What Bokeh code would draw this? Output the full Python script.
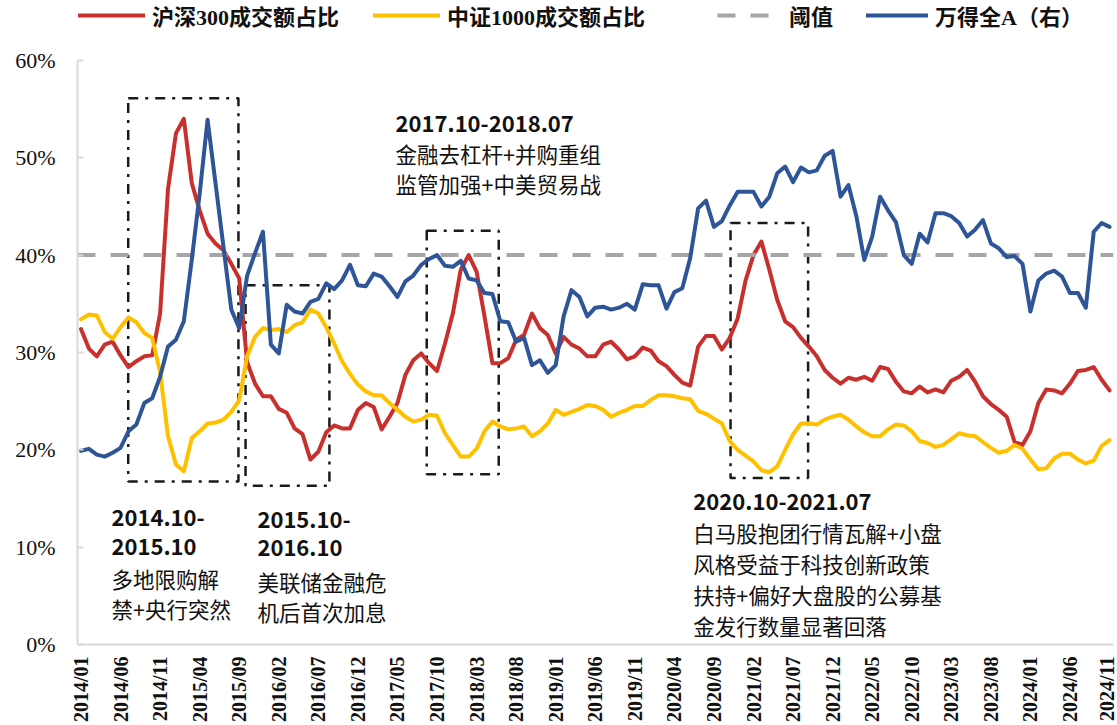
from bokeh.plotting import figure
from bokeh.models import Legend, LegendItem, Label, FixedTicker, Range1d
from bokeh.embed import file_html
from bokeh.resources import INLINE

# ---------------- data ----------------
months = [f"{2014 + k // 12}/{k % 12 + 1:02d}" for k in range(131)]   # 2014/01 .. 2024/11

hs300_share = [
    32.4, 30.4, 29.6, 30.8, 31.1, 29.7, 28.5, 29.1, 29.6, 29.7,
    34.0, 46.8, 52.5, 54.0, 47.4, 44.6, 42.2, 41.2, 40.5, 39.1,
    37.6, 29.0, 26.8, 25.5, 25.5, 24.2, 23.8, 22.2, 21.6, 19.0,
    19.8, 21.8, 22.5, 22.2, 22.2, 24.1, 24.8, 24.4, 22.1, 23.4,
    24.8, 27.7, 29.2, 29.9, 28.9, 28.1, 30.9, 34.0, 38.5, 40.0,
    38.3, 33.7, 28.9, 28.9, 29.4, 31.3, 31.8, 34.0, 32.5, 31.8,
    29.9, 31.6, 30.8, 30.4, 29.6, 29.6, 30.8, 31.1, 30.3, 29.3,
    29.6, 30.5, 30.2, 29.1, 28.6, 27.7, 26.9, 26.6, 30.6, 31.7,
    31.7, 30.3, 31.5, 33.5, 37.4, 40.0, 41.4, 38.5, 35.4, 33.2,
    32.6, 31.5, 30.6, 29.6, 28.2, 27.4, 26.8, 27.4, 27.2, 27.5,
    27.1, 28.5, 28.3, 27.0, 26.0, 25.8, 26.5, 25.9, 26.2, 25.9,
    27.1, 27.5, 28.2, 27.0, 25.5, 24.7, 24.1, 23.4, 20.8, 20.5,
    21.9, 24.8, 26.2, 26.1, 25.8, 26.8, 28.1, 28.2, 28.5, 27.2, 26.1]

csi1000_share = [
    33.4, 33.9, 33.8, 32.1, 31.4, 32.6, 33.6, 33.1, 32.0, 31.5,
    28.0, 21.4, 18.5, 17.8, 21.2, 21.9, 22.7, 22.8, 23.1, 23.9,
    25.1, 29.6, 31.6, 32.5, 32.3, 32.4, 32.1, 32.8, 33.1, 34.4,
    34.0, 32.6, 30.9, 29.1, 27.8, 26.7, 26.0, 25.6, 25.6, 24.8,
    24.1, 23.4, 22.9, 23.1, 23.6, 23.5, 21.7, 20.5, 19.3, 19.3,
    20.1, 21.9, 22.9, 22.4, 22.1, 22.2, 22.4, 21.4, 21.9, 22.7,
    24.1, 23.6, 23.9, 24.2, 24.6, 24.5, 24.1, 23.4, 23.8, 24.1,
    24.5, 24.5, 25.1, 25.6, 25.6, 25.5, 25.3, 25.2, 24.0, 23.7,
    23.2, 22.7, 20.9, 20.0, 19.4, 18.8, 17.9, 17.7, 18.3, 20.0,
    21.6, 22.7, 22.7, 22.6, 23.1, 23.4, 23.6, 23.1, 22.4, 21.8,
    21.4, 21.4, 22.1, 22.6, 22.5, 21.9, 20.9, 20.7, 20.3, 20.5,
    21.1, 21.7, 21.5, 21.4, 20.8, 20.2, 19.7, 19.9, 20.5, 20.1,
    19.0, 18.0, 18.1, 19.1, 19.6, 19.6, 19.0, 18.6, 18.9, 20.4, 21.0]

# Wind All A (right axis, which is not shown) read against the left scale
wind_all_a = [
    19.9, 20.1, 19.5, 19.3, 19.7, 20.2, 21.9, 22.6, 24.8, 25.3,
    27.5, 30.6, 31.3, 33.2, 39.5, 46.3, 53.9, 47.4, 40.9, 34.4,
    32.5, 37.9, 40.2, 42.4, 30.8, 29.9, 34.9, 34.2, 34.0, 35.2,
    35.5, 37.1, 36.5, 37.4, 39.0, 36.9, 36.8, 38.1, 37.8, 36.8,
    35.7, 37.3, 37.9, 39.0, 39.6, 40.0, 38.9, 38.8, 39.4, 37.6,
    37.4, 36.1, 36.0, 33.2, 33.1, 31.1, 31.5, 28.7, 29.2, 27.9,
    28.7, 33.7, 36.4, 35.7, 33.7, 34.6, 34.7, 34.4, 34.6, 35.0,
    34.4, 37.0, 36.9, 36.9, 34.5, 36.2, 36.6, 39.7, 44.8, 45.6,
    42.9, 43.5, 45.1, 46.5, 46.5, 46.5, 45.0, 46.0, 48.4, 49.1,
    47.5, 49.0, 48.5, 48.7, 50.2, 50.7, 46.0, 47.2, 44.0, 39.5,
    41.9, 46.0, 44.6, 43.4, 40.0, 39.1, 42.2, 41.3, 44.3, 44.3,
    44.0, 43.3, 41.9, 42.6, 43.6, 41.2, 40.7, 39.8, 39.9, 39.1,
    34.2, 37.4, 38.1, 38.4, 37.8, 36.1, 36.1, 34.6, 42.4, 43.3, 42.9]

threshold = 40.0
y_ticks = [0, 10, 20, 30, 40, 50, 60]
x_tick_step = 5

series_names = ["沪深300成交额占比", "中证1000成交额占比", "阈值", "万得全A（右）"]

# annotation boxes (month index / percent)
box_left = [5.97, 20.8, 43.7, 82.1]
box_right = [19.9, 31.4, 52.8, 91.9]
box_top = [56.1, 36.9, 42.5, 43.3]
box_bottom = [16.75, 16.3, 17.5, 17.1]

# annotation texts: (x month index, y percent, bold, text)
notes = [
    (3.86, 13.0, True, "2014.10-"), (3.86, 10.05, True, "2015.10"),
    (3.86, 6.77, False, "多地限购解"), (3.86, 3.69, False, "禁+央行突然"),
    (22.3, 12.82, True, "2015.10-"), (22.3, 9.95, True, "2016.10"),
    (22.3, 6.49, False, "美联储金融危"), (22.3, 3.42, False, "机后首次加息"),
    (39.76, 53.5, True, "2017.10-2018.07"),
    (39.76, 50.43, False, "金融去杠杆+并购重组"),
    (39.76, 47.4, False, "监管加强+中美贸易战"),
    (77.4, 14.67, True, "2020.10-2021.07"),
    (77.4, 11.49, False, "白马股抱团行情瓦解+小盘"),
    (77.4, 8.31, False, "风格受益于科技创新政策"),
    (77.4, 5.13, False, "扶持+偏好大盘股的公募基"),
    (77.4, 1.95, False, "金发行数量显著回落"),
]

# ---------------- styles ----------------
RED = "#C8302E"
YELLOW = "#FFC000"
GRAY = "#A6A6A6"
BLUE = "#2E5597"
AXIS_GRAY = "#D9D9D9"
TXT = "#111111"
SERIF = "Liberation Serif"
LEG_FONT = "Liberation Serif, Noto Sans CJK SC"
CJK = "Noto Sans CJK SC"

X_START, X_END = -0.44, 130.5
Y_TOP = 60 + 60 * 60 / 585.0      # frame extends to the top of the canvas (legend lives there)

p = figure(width=1117, height=725, x_range=Range1d(X_START, X_END), y_range=Range1d(0, Y_TOP),
           output_backend="svg", toolbar_location=None,
           min_border_left=77, min_border_right=4, min_border_top=0, min_border_bottom=80)
p.outline_line_color = None
p.xgrid.visible = False
p.ygrid.visible = False
p.background_fill_color = "white"
p.border_fill_color = "white"

x = list(range(len(months)))

# boxes
p.quad(left=box_left, right=box_right, top=box_top, bottom=box_bottom,
       fill_alpha=0, line_color="#1a1a1a", line_width=2.5, line_dash="10 7 3 7")

r_red = p.line(x, hs300_share, line_color=RED, line_width=4, line_join="round", line_cap="round")
r_yel = p.line(x, csi1000_share, line_color=YELLOW, line_width=4, line_join="round", line_cap="round")
r_thr = p.line([X_START, X_END], [threshold, threshold], line_color=GRAY, line_width=4,
               line_dash="18 15")
r_blu = p.line(x, wind_all_a, line_color=BLUE, line_width=4, line_join="round", line_cap="round")

# legends: one per series, placed at the top like the reference
LEG_VY = 613
for r, name, vx, gw in [(r_red, series_names[0], 1, 67), (r_yel, series_names[1], 296, 67),
                        (r_thr, series_names[2], 640, 65), (r_blu, series_names[3], 789, 62)]:
    lg = Legend(items=[LegendItem(label=name, renderers=[r])], location=(vx, LEG_VY),
                orientation="horizontal", glyph_width=gw, glyph_height=24, label_height=24,
                label_standoff=7, padding=0, margin=0, spacing=0,
                border_line_alpha=0, background_fill_alpha=0,
                label_text_font=LEG_FONT, label_text_font_size="22px",
                label_text_font_style="bold", label_text_color=TXT,
                label_text_baseline="middle")
    p.add_layout(lg)

# annotation texts
for nx, ny, bold, t in notes:
    p.add_layout(Label(x=nx, y=ny, text=t, text_baseline="middle", text_align="left",
                       text_font=CJK, text_font_size="22px" if bold else "21.5px",
                       text_font_style="bold" if bold else "normal", text_color=TXT))

# axes
xa = p.xaxis[0]
xa.ticker = FixedTicker(ticks=list(range(0, len(months), x_tick_step)))
xa.major_label_overrides = {i: months[i] for i in range(0, len(months), x_tick_step)}
xa.major_label_orientation = 3.14159265 / 2
xa.major_label_text_font = SERIF
xa.major_label_text_font_style = "bold"
xa.major_label_text_font_size = "20px"
xa.major_label_text_color = TXT
xa.major_label_standoff = 12
xa.major_tick_in = 0
xa.major_tick_out = 0
xa.minor_tick_in = 0
xa.minor_tick_out = 0
xa.axis_line_color = AXIS_GRAY
xa.axis_line_width = 2

ya = p.yaxis[0]
ya.bounds = (0, 60)
ya.ticker = FixedTicker(ticks=y_ticks)
ya.major_label_overrides = {t: f"{t}%" for t in y_ticks}
ya.major_label_text_font = SERIF
ya.major_label_text_font_size = "22px"
ya.major_label_text_color = TXT
ya.major_label_standoff = 22
ya.major_tick_in = 6
ya.major_tick_out = 0
ya.major_tick_line_color = AXIS_GRAY
ya.major_tick_line_width = 2
ya.minor_tick_in = 0
ya.minor_tick_out = 0
ya.axis_line_color = AXIS_GRAY
ya.axis_line_width = 2

open("out.html", "w").write(file_html(p, INLINE))
